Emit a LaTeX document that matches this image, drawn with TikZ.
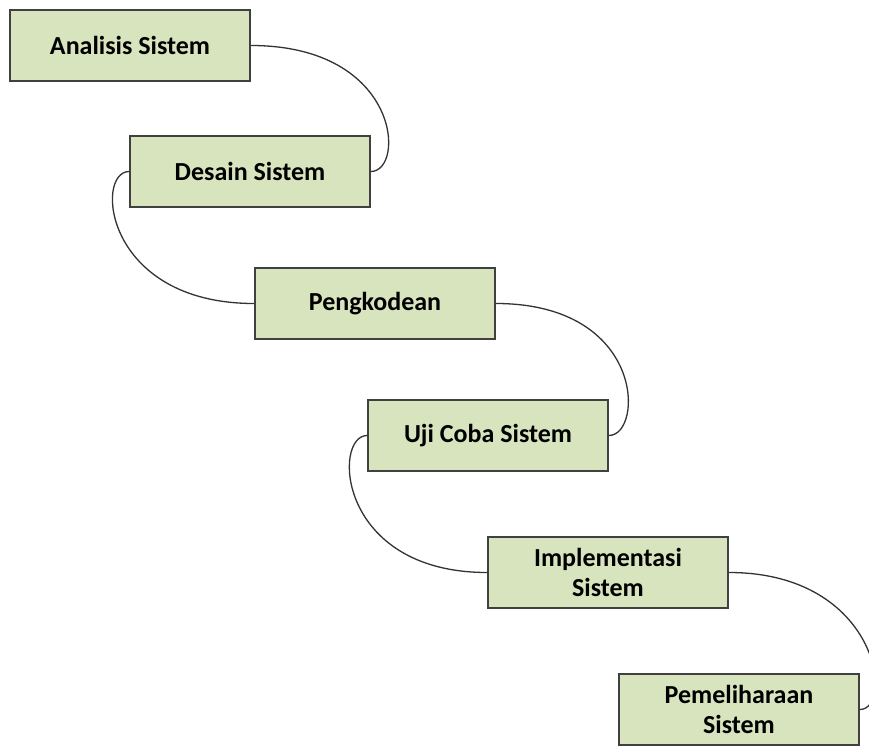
\documentclass[tikz,border=0pt]{standalone}
\usepackage{fontspec}
\setmainfont{Carlito}
\usepackage{xcolor}
\definecolor{boxfill}{HTML}{D7E4BD}
\colorlet{boxline}{black!75}
\colorlet{linkline}{black!80}

\begin{document}
\begin{tikzpicture}[x=1pt,y=-1pt,
	stage/.style={draw=boxline, line width=1.6pt, fill=boxfill,
		minimum width=240pt, minimum height=71pt, align=center,
		font=\fontsize{26}{30}\selectfont\bfseries},
	link/.style={draw=linkline, line width=1.3pt}]
	\clip (0,0) rectangle (869,746);
	\fill[white] (0,0) rectangle (869,746);

	% tahapan
	\node[stage] (analisis)   at (130,45.5)  {Analisis Sistem};
	\node[stage] (desain)     at (250,171.5) {Desain Sistem};
	\node[stage] (kode)       at (375,303.5) {Pengkodean};
	\node[stage] (uji)        at (488,435.5) {Uji Coba Sistem};
	\node[stage] (implement)  at (608,572.5) {Implementasi\\Sistem};
	\node[stage] (pelihara)   at (739,709.5) {Pemeliharaan\\Sistem};

	% penghubung
	\draw[link] (analisis.east) to[out=0,in=0,out distance=150pt,in distance=35pt] (desain.east);
	\draw[link] (desain.west) to[out=180,in=180,out distance=35pt,in distance=150pt] (kode.west);
	\draw[link] (kode.east) to[out=0,in=0,out distance=150pt,in distance=35pt] (uji.east);
	\draw[link] (uji.west) to[out=180,in=180,out distance=35pt,in distance=150pt] (implement.west);
	\draw[link] (implement.east) to[out=0,in=0,out distance=150pt,in distance=35pt] (pelihara.east);
\end{tikzpicture}
\end{document}
